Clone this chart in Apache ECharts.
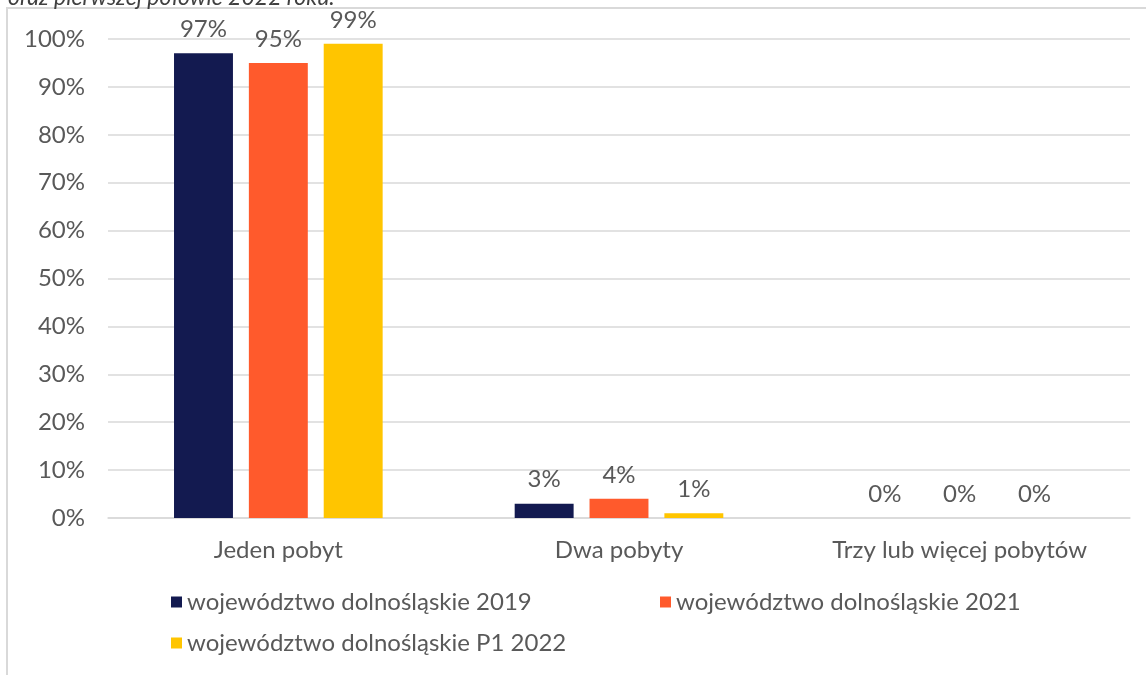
<!DOCTYPE html>
<html>
<head>
<meta charset="utf-8">
<script src="https://cdn.jsdelivr.net/npm/echarts@6/dist/echarts.min.js"></script>
<style>
html,body{margin:0;padding:0;background:#fff;}
#chart{width:1146px;height:675px;}
</style>
</head>
<body>
<div id="chart"></div>
<script>
const categories = ['Jeden pobyt', 'Dwa pobyty', 'Trzy lub więcej pobytów'];
const seriesNames = ['województwo dolnośląskie 2019', 'województwo dolnośląskie 2021', 'województwo dolnośląskie P1 2022'];
const values2019 = [97, 3, 0];
const values2021 = [95, 4, 0];
const valuesP12022 = [99, 1, 0];
const colors = ['#131a50', '#ff5a2c', '#ffc500'];
const titleText = 'oraz pierwszej połowie 2022 roku.';

const font = 'Lato, "Noto Sans", sans-serif';
const fs = 24;
const txt = '#595959';
const allValues = [values2019, values2021, valuesP12022];

const chart = echarts.init(document.getElementById('chart'));
const series = seriesNames.map((n, i) => ({
  name: n,
  type: 'bar',
  data: allValues[i],
  barWidth: '17.3%',
  barGap: '27%',
  itemStyle: { color: colors[i] },
  label: {
    show: true, position: 'top', distance: 12,
    formatter: p => p.value + '%',
    color: txt, fontFamily: font, fontSize: fs
  }
}));

const legendCommon = {
  icon: 'rect', itemWidth: 11, itemHeight: 11, itemGap: 0,
  textStyle: { color: txt, fontFamily: font, fontSize: fs, padding: [0, 0, 0, 0] },
  padding: 0
};

chart.setOption({
  animation: false,
  backgroundColor: '#fff',
  color: colors,
  grid: { left: 108, right: 16, top: 39, bottom: 157 },
  xAxis: {
    type: 'category', data: categories,
    axisLine: { lineStyle: { color: '#d9d9d9', width: 1.5 } },
    axisTick: { show: false },
    axisLabel: { color: txt, fontFamily: font, fontSize: fs, margin: 20 }
  },
  yAxis: {
    type: 'value', min: 0, max: 100, interval: 10,
    axisLabel: { color: txt, fontFamily: font, fontSize: fs, margin: 23, formatter: '{value}%' },
    splitLine: { lineStyle: { color: '#d9d9d9', width: 1.5 } },
    axisLine: { show: false }, axisTick: { show: false }
  },
  legend: [
    Object.assign({ data: [seriesNames[0]], left: 171, top: 590 }, legendCommon),
    Object.assign({ data: [seriesNames[1]], left: 660, top: 590 }, legendCommon),
    Object.assign({ data: [seriesNames[2]], left: 171, top: 631 }, legendCommon)
  ],
  graphic: [
    { type: 'rect', shape: { x: 7, y: 8, width: 1200, height: 700 }, style: { fill: 'none', stroke: '#d9d9d9', lineWidth: 2 }, silent: true, z: -1 },
    { type: 'text', x: 8, y: 9, style: { text: titleText, font: 'italic 23px Lato, "Noto Sans", sans-serif', fill: '#404040', verticalAlign: 'bottom' } }
  ],
  series: series
});
</script>
</body>
</html>
